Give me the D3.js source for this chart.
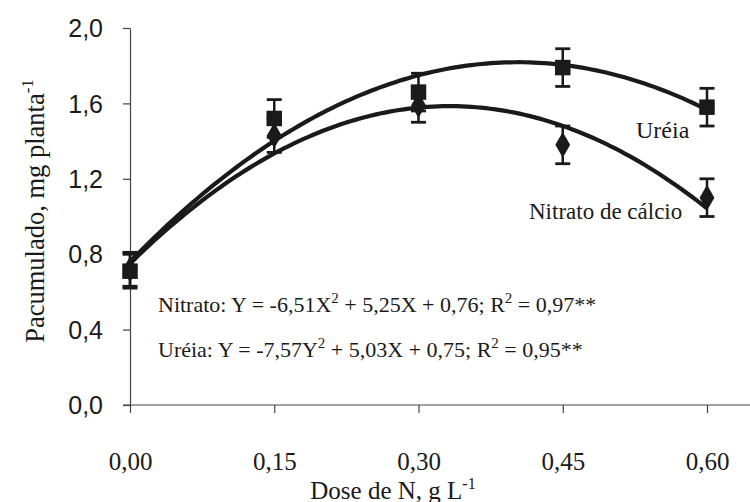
<!DOCTYPE html>
<html><head><meta charset="utf-8">
<script src="https://cdn.jsdelivr.net/npm/d3@7"></script>
<style>body{margin:0;background:#fff}svg{display:block}</style>
</head><body><svg id="c" width="750" height="502"></svg>
<script>
// ---- data ----
const doses = [0, 0.15, 0.30, 0.45, 0.60];
const ureia = [0.71, 1.52, 1.66, 1.79, 1.58];
const ureiaErr = [0.09, 0.10, 0.10, 0.10, 0.10];
const nitrato = [0.72, 1.43, 1.59, 1.38, 1.10];
const nitratoErr = [0.09, 0.09, 0.09, 0.10, 0.10];
// fitted curves (coefficients printed in the chart: a X^2 + b X + c)
const upperCoef = [-6.51, 5.25, 0.76];
const lowerCoef = [-7.57, 5.03, 0.75];
const xTicks = [0, 0.15, 0.30, 0.45, 0.60];
const xTickLabels = ["0,00", "0,15", "0,30", "0,45", "0,60"];
const yTicks = [0, 0.4, 0.8, 1.2, 1.6, 2.0];
const yTickLabels = ["0,0", "0,4", "0,8", "1,2", "1,6", "2,0"];

const svg = d3.select("#c");
const serif = "'Liberation Serif','Times New Roman',serif";
const sans = "'Liberation Sans',Arial,sans-serif";
const ink = "#1a1a1a";

const x = d3.scaleLinear().domain([0, 0.6]).range([130, 707]);
const y = d3.scaleLinear().domain([0, 2]).range([405, 28]);

// y axis
const yAxis = svg.append("g").attr("transform", `translate(${x(0)},0)`)
  .call(d3.axisLeft(y).tickValues(yTicks).tickFormat((d, i) => yTickLabels[i]).tickSize(7).tickSizeOuter(0));
yAxis.select(".domain").attr("stroke", "#444").attr("stroke-width", 1.2);
yAxis.selectAll(".tick line").attr("stroke", "#444").attr("stroke-width", 1.2);
yAxis.selectAll(".tick text").attr("font-family", sans).attr("font-size", 25).attr("fill", ink).attr("x", -27).attr("dy", "0.35em");

// x axis
const xAxis = svg.append("g").attr("transform", `translate(0,${y(0)})`)
  .call(d3.axisBottom(x).tickValues(xTicks).tickFormat((d, i) => xTickLabels[i]).tickSize(8).tickSizeOuter(0));
xAxis.select(".domain").attr("d", `M${x(0) - 7},0H750`).attr("stroke", "#444").attr("stroke-width", 1.2);
xAxis.selectAll(".tick line").attr("stroke", "#444").attr("stroke-width", 1.2);
xAxis.selectAll(".tick text").attr("font-family", serif).attr("font-size", 25).attr("fill", ink).attr("y", 65).attr("dy", "0");

// axis titles
const yt = svg.append("text").attr("transform", "translate(44,211) rotate(-90)")
  .attr("text-anchor", "middle").attr("font-family", serif).attr("font-size", 26.5).attr("fill", ink);
yt.append("tspan").text("Pacumulado, mg planta");
yt.append("tspan").attr("dy", -11).attr("font-size", 17).text("-1");

const xt = svg.append("text").attr("x", 393).attr("y", 499)
  .attr("text-anchor", "middle").attr("font-family", serif).attr("font-size", 25).attr("fill", ink);
xt.append("tspan").text("Dose de N, g L");
xt.append("tspan").attr("dy", -10).attr("font-size", 16).text("-1");

// fitted curves
const xs = d3.range(0, 0.6001, 0.005);
const line = d3.line().x(d => x(d[0])).y(d => y(d[1])).curve(d3.curveLinear);
[upperCoef, lowerCoef].forEach(c => {
  svg.append("path").datum(xs.map(v => [v, c[0] * v * v + c[1] * v + c[2]]))
    .attr("d", line).attr("fill", "none").attr("stroke", ink).attr("stroke-width", 4.2);
});

// error bars + markers
function series(vals, errs, sym) {
  const g = svg.append("g");
  vals.forEach((v, i) => {
    const cx = x(doses[i]);
    g.append("line").attr("x1", cx).attr("x2", cx).attr("y1", y(v - errs[i])).attr("y2", y(v + errs[i]))
      .attr("stroke", ink).attr("stroke-width", 2.5);
    [v - errs[i], v + errs[i]].forEach(e => g.append("line")
      .attr("x1", cx - 7.5).attr("x2", cx + 7.5).attr("y1", y(e)).attr("y2", y(e))
      .attr("stroke", ink).attr("stroke-width", 2.8));
  });
  g.selectAll("path.m").data(vals).join("path").attr("class", "m")
    .attr("transform", (d, i) => `translate(${x(doses[i])},${y(d)})`)
    .attr("d", d3.symbol().type(sym).size(sym === d3.symbolSquare ? 240 : 190))
    .attr("fill", ink);
}
series(nitrato, nitratoErr, d3.symbolDiamond);
series(ureia, ureiaErr, d3.symbolSquare);

// labels
svg.append("text").attr("x", 636).attr("y", 138).attr("font-family", serif).attr("font-size", 24).attr("fill", ink).text("Uréia");
svg.append("text").attr("x", 529).attr("y", 219).attr("font-family", serif).attr("font-size", 23).attr("fill", ink).text("Nitrato de cálcio");

function rich(xp, yp, parts) {
  const t = svg.append("text").attr("x", xp).attr("y", yp).attr("font-family", serif).attr("font-size", 22).attr("fill", ink)
    .attr("xml:space", "preserve");
  let shift = 0;
  parts.forEach(p => {
    if (p.sup) {
      t.append("tspan").attr("dy", -9).attr("font-size", 15).text(p.sup);
      shift = 9;
    } else {
      t.append("tspan").attr("dy", shift).text(p.t);
      shift = 0;
    }
  });
}
rich(158, 312, [{t: "Nitrato: Y = -6,51X"}, {sup: "2"}, {t: " + 5,25X + 0,76; R"}, {sup: "2"}, {t: " = 0,97**"}]);
rich(158, 357, [{t: "Uréia: Y = -7,57Y"}, {sup: "2"}, {t: " + 5,03X + 0,75; R"}, {sup: "2"}, {t: " = 0,95**"}]);
</script></body></html>
